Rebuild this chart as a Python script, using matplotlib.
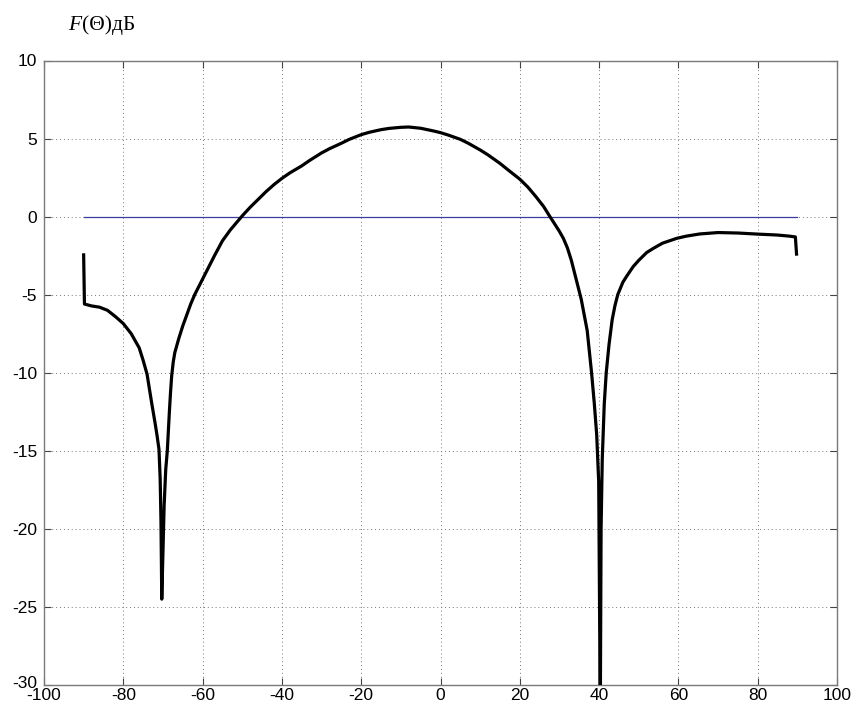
import matplotlib
matplotlib.use("Agg")
import matplotlib.pyplot as plt
from matplotlib.transforms import ScaledTranslation

plt.rcParams['axes.unicode_minus'] = False

theta = [-90, -89.8, -88, -86, -84, -82, -80, -78, -76, -75, -74, -73.5, -72.8, -72,
         -71.5, -71, -70.7, -70.5, -70.3, -70.0, -69.7, -69.3, -68.9, -68.4, -68.1,
         -67.8, -67.4, -67, -66, -65, -64, -63, -62, -61, -60, -59, -57, -55, -53,
         -51, -50, -48, -47, -45, -44, -42, -40, -38, -35, -33, -30, -28, -25, -23,
         -20, -18, -15, -13, -10, -8, -5, -2, 0, 2, 5, 7, 10, 12, 15, 17, 20, 22, 24,
         26, 27.6, 29, 30, 31, 32, 33, 34, 35.5, 37, 38.1, 38.8, 39.4, 39.9, 40.3,
         40.5, 40.8, 41.3, 41.8, 42.5, 43.3, 44, 44.7, 46, 47, 48.6, 50, 52, 53.7,
         56, 59.6, 62, 65.4, 70, 75, 80, 85, 88, 89.5, 89.8]
gain_db = [-2.45, -5.6, -5.72, -5.8, -6.0, -6.4, -6.85, -7.5, -8.4, -9.2, -10.1,
           -10.9, -12.0, -13.2, -14.0, -14.9, -16.8, -19.5, -24.5, -21.5, -18.5,
           -16.2, -15.0, -12.6, -11.3, -10.2, -9.3, -8.7, -7.8, -7.0, -6.3, -5.6,
           -5.0, -4.5, -4.0, -3.5, -2.5, -1.55, -0.85, -0.25, 0.05, 0.6, 0.85, 1.35,
           1.6, 2.05, 2.45, 2.8, 3.25, 3.6, 4.08, 4.35, 4.7, 4.95, 5.25, 5.4, 5.57,
           5.65, 5.72, 5.74, 5.66, 5.5, 5.38, 5.22, 4.95, 4.7, 4.27, 3.95, 3.41, 3.0,
           2.4, 1.9, 1.3, 0.65, 0.0, -0.55, -0.95, -1.4, -2.0, -2.8, -3.8, -5.3,
           -7.3, -10.0, -12.0, -14.0, -17.0, -32.0, -20.0, -15.5, -12.0, -10.0,
           -8.2, -6.6, -5.7, -5.0, -4.2, -3.8, -3.2, -2.8, -2.3, -2.03, -1.7, -1.39,
           -1.25, -1.11, -1.02, -1.05, -1.12, -1.18, -1.25, -1.3, -2.4]
ref_x = [-90, 90]
ref_y = [0, 0]
xticks = list(range(-100, 101, 20))
yticks = list(range(-30, 11, 5))

fig = plt.figure(figsize=(8.52, 7.08), dpi=100)
ax = fig.add_axes([44/852, 23/708, (837-44)/852, (685-60.5)/708])
ax.plot(ref_x, ref_y, color='#3c3c9c', lw=0.9, zorder=3)
ax.plot(theta, gain_db, color='black', lw=2.3, zorder=4)
ax.set_xlim(-100, 100)
ax.set_ylim(-30, 10)
ax.set_xticks(xticks)
ax.set_yticks(yticks)
ax.grid(True, linestyle=(0, (1, 3)), color='#777777', lw=0.7)
ax.tick_params(direction='in', length=5, width=0.8, top=True, right=True,
               labelsize=12.5, colors='#444444', labelcolor='black')
ax.tick_params(axis='x', pad=2.5)
ax.tick_params(axis='y', pad=5)
for lab in ax.get_xticklabels() + ax.get_yticklabels():
    lab.set_family('Liberation Sans')
for s in ax.spines.values():
    s.set_color('#7a7a7a')
    s.set_linewidth(1.0)

# nudge the bottom y label (-30) up a little, as in the reference
lab0 = ax.get_yticklabels()[0]
lab0.set_transform(lab0.get_transform() + ScaledTranslation(0, 3/100, fig.dpi_scale_trans))

t1 = fig.text(68/852, 1 - 30/708, 'F', family='Liberation Serif', style='italic',
              fontsize=15.5, va='baseline', ha='left')
fig.canvas.draw()
bb = t1.get_window_extent()
fig.text(bb.x1 / fig.bbox.width + 0.001, 1 - 30/708, '(Θ)дБ', family='Liberation Serif',
         fontsize=15.5, va='baseline', ha='left')

fig.savefig('out.png', dpi=100)
